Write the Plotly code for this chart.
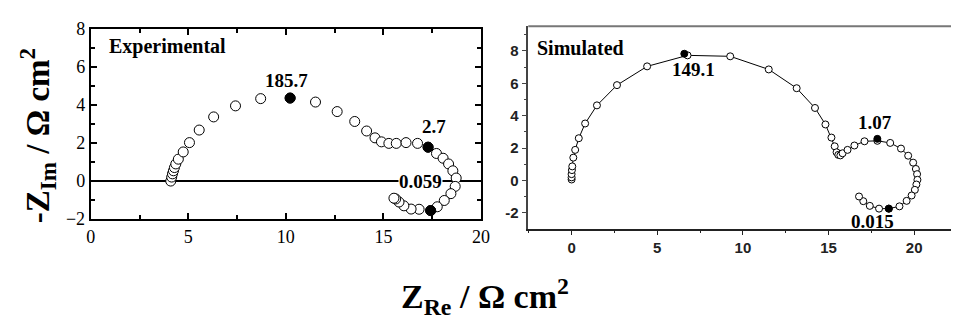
import plotly.graph_objects as go

# ---------------- data ----------------
exp_x = [4.10, 4.15, 4.19, 4.24, 4.29, 4.36, 4.49, 4.74, 5.06, 5.56, 6.30, 7.42, 8.71, 10.22,
         11.52, 12.63, 13.53, 14.14, 14.57, 14.90, 15.28, 15.66, 16.16, 16.75, 17.29,
         17.72, 18.06, 18.34, 18.56, 18.73, 18.68, 18.46, 18.12, 17.76, 17.42,
         16.83, 16.42, 16.05, 15.80, 15.63, 15.54]
exp_y = [0.00, 0.21, 0.38, 0.54, 0.71, 0.90, 1.15, 1.53, 2.02, 2.68, 3.37, 3.95, 4.33, 4.36,
         4.15, 3.65, 3.13, 2.63, 2.27, 2.06, 1.98, 1.98, 2.02, 1.98, 1.78,
         1.45, 1.20, 0.90, 0.54, 0.16, -0.28, -0.66, -1.02, -1.35, -1.55,
         -1.48, -1.47, -1.30, -1.10, -0.94, -0.90]
exp_filled_x = [10.22, 17.29, 17.42]
exp_filled_y = [4.36, 1.78, -1.55]
exp_labels = ["185.7", "2.7", "0.059"]
exp_label_x = [10.05, 17.6, 16.92]
exp_label_y = [5.27, 2.85, 0.0]

sim_x = [0.00, 0.00, 0.00, 0.02, 0.04, 0.10, 0.21, 0.42, 0.79, 1.48, 2.65, 4.41, 6.77,
         9.26, 11.51, 13.14, 14.21, 14.82, 15.17, 15.36, 15.47, 15.57, 15.69, 15.82,
         16.11, 16.51, 17.10, 17.85, 18.60, 19.23, 19.65, 19.94, 20.10, 20.17, 20.19,
         20.13, 20.04, 19.85, 19.56, 19.14, 18.52, 17.95, 17.41, 17.03, 16.78]
sim_y = [0.06, 0.19, 0.39, 0.64, 0.87, 1.41, 1.89, 2.61, 3.52, 4.64, 5.89, 7.05, 7.73,
         7.67, 6.86, 5.70, 4.48, 3.46, 2.65, 2.11, 1.74, 1.58, 1.55, 1.68,
         1.89, 2.16, 2.42, 2.45, 2.32, 1.97, 1.53, 1.10, 0.71, 0.39, 0.04,
         -0.25, -0.58, -0.93, -1.26, -1.60, -1.74, -1.74, -1.57, -1.28, -0.99]
sim_filled_x = [6.58, 17.85, 18.52]
sim_filled_y = [7.83, 2.57, -1.74]
sim_labels = ["149.1", "1.07", "0.015"]
sim_label_x = [7.09, 17.74, 17.55]
sim_label_y = [6.86, 3.61, -2.55]

sim_xtick_vals = [0, 5, 10, 15, 20]
sim_xtick_text = ["0", "5", "10", "15", "20"]
sim_ytick_vals = [-2, 0, 2, 4, 6, 8]
sim_ytick_text = ["-2", "0", "2", "4", "6", "8"]

W, H = 960, 322
SERIF = "Liberation Serif, Times New Roman, serif"
SANS = "Liberation Sans, Arial, sans-serif"

fig = go.Figure()

# Experimental panel
fig.add_trace(go.Scatter(x=exp_x, y=exp_y, mode="markers", xaxis="x", yaxis="y",
                         marker=dict(size=10, color="white", line=dict(color="black", width=1)),
                         showlegend=False, cliponaxis=False))
fig.add_trace(go.Scatter(x=exp_filled_x, y=exp_filled_y, mode="markers", xaxis="x", yaxis="y",
                         marker=dict(size=10, color="black", line=dict(color="black", width=1)),
                         showlegend=False, cliponaxis=False))

# Simulated panel
fig.add_trace(go.Scatter(x=sim_x, y=sim_y, mode="lines+markers", xaxis="x2", yaxis="y2",
                         line=dict(color="black", width=1),
                         marker=dict(size=7, color="white", line=dict(color="black", width=1)),
                         showlegend=False, cliponaxis=False))
fig.add_trace(go.Scatter(x=sim_filled_x, y=sim_filled_y, mode="markers", xaxis="x2", yaxis="y2",
                         marker=dict(size=7, color="black", line=dict(color="black", width=1)),
                         showlegend=False, cliponaxis=False))

annotations = []
for t, x, y in zip(exp_labels, exp_label_x, exp_label_y):
    annotations.append(dict(text=t, x=x, y=y, xref="x", yref="y", showarrow=False,
                            xanchor="center", yanchor="middle",
                            font=dict(family=SERIF, size=19, color="black", weight="bold"),
                            bgcolor="white" if t == "0.059" else "rgba(0,0,0,0)", borderpad=0))
for t, x, y in zip(sim_labels, sim_label_x, sim_label_y):
    annotations.append(dict(text=t, x=x, y=y, xref="x2", yref="y2", showarrow=False,
                            xanchor="center", yanchor="middle",
                            font=dict(family=SERIF, size=19, color="black", weight="bold")))

annotations.append(dict(text="Experimental", x=0.84, y=7.05, xref="x", yref="y",
                        xanchor="left", yanchor="middle", showarrow=False,
                        font=dict(family=SERIF, size=20, color="black", weight="bold")))
annotations.append(dict(text="Simulated", x=-2.11, y=8.17, xref="x2", yref="y2",
                        xanchor="left", yanchor="middle", showarrow=False,
                        font=dict(family=SERIF, size=20, color="black", weight="bold")))
annotations.append(dict(text="-Z<sub>Im</sub> / Ω cm<sup>2</sup>", x=33 / W, y=1 - 134 / H,
                        xref="paper", yref="paper", showarrow=False, textangle=-90,
                        xanchor="center", yanchor="middle",
                        font=dict(family=SERIF, size=33, color="black", weight="bold")))
annotations.append(dict(text="Z<sub>Re</sub> / Ω cm<sup>2</sup>", x=487 / W, y=1 - 306 / H,
                        xref="paper", yref="paper", showarrow=False,
                        xanchor="center", yanchor="middle",
                        font=dict(family=SERIF, size=34, color="black", weight="bold")))

ax_left = dict(showgrid=False, zeroline=False, showline=True, linecolor="black", linewidth=2,
               mirror="ticks", ticks="inside", ticklen=6, tickwidth=1.5, tickcolor="black",
               tickfont=dict(family=SERIF, size=18, color="black"))

fig.update_layout(
    width=W, height=H, margin=dict(l=0, r=0, t=0, b=0),
    plot_bgcolor="white", paper_bgcolor="white",
    xaxis=dict(domain=[87 / W, 483 / W], range=[0, 20], dtick=5, tick0=0,
               minor=dict(dtick=2.5, ticks="inside", ticklen=4, tickcolor="black"),
               anchor="y", **ax_left),
    yaxis=dict(domain=[(H - 223) / H, (H - 20) / H], range=[-2, 8], dtick=2, tick0=0,
               minor=dict(dtick=1, ticks="inside", ticklen=4, tickcolor="black"),
               anchor="x", **ax_left),
    xaxis2=dict(domain=[531 / W, 1.0], range=[-2.53, 22.15],
                tickvals=sim_xtick_vals, ticktext=["<b>%s</b>" % t for t in sim_xtick_text],
                showgrid=False, zeroline=False, showline=True, linecolor="#222", linewidth=1.5,
                ticks="outside", ticklen=5, tickcolor="#222",
                minor=dict(dtick=2.5, tick0=0, ticks="outside", ticklen=3, tickcolor="#222"),
                tickfont=dict(family=SANS, size=15, color="#222"),
                anchor="y2"),
    yaxis2=dict(domain=[(H - 233) / H, (H - 17.3) / H], range=[-2.97, 9.53],
                tickvals=sim_ytick_vals, ticktext=["<b>%s</b>" % t for t in sim_ytick_text],
                showgrid=False, zeroline=False, showline=True, linecolor="#444", linewidth=1.5,
                ticks="outside", ticklen=5, tickcolor="#444",
                minor=dict(dtick=1, tick0=0, ticks="outside", ticklen=3, tickcolor="#444"),
                tickfont=dict(family=SANS, size=15, color="#222"),
                anchor="x2"),
    annotations=annotations,
    shapes=[
        dict(type="line", xref="x", yref="y", x0=0, x1=20, y0=0, y1=0,
             line=dict(color="black", width=2), layer="below"),
        dict(type="line", xref="paper", yref="paper", x0=531 / W, x1=1.0,
             y0=(H - 17.3) / H, y1=(H - 17.3) / H, line=dict(color="#777", width=2)),
    ],
)

fig.write_html("out.html")
